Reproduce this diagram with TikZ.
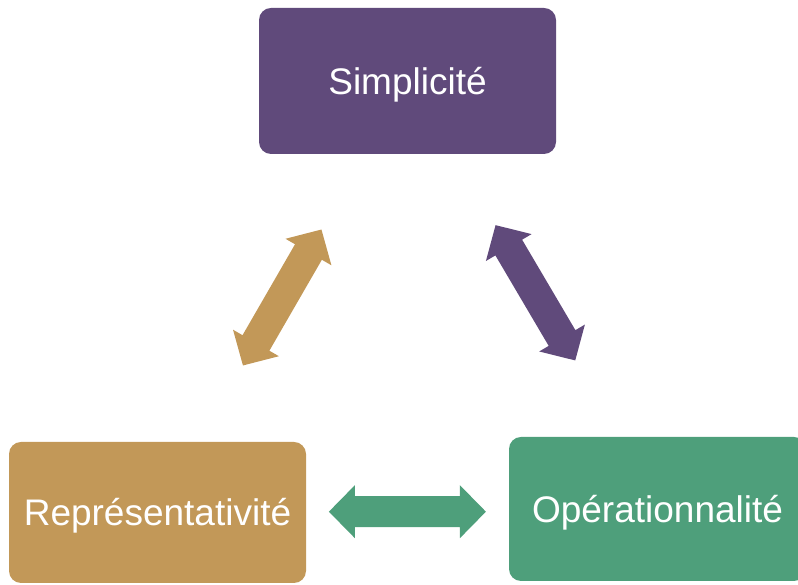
\documentclass[tikz,border=0pt]{standalone}
\usepackage{fontspec}
\setmainfont{Liberation Sans}
\definecolor{plum}{HTML}{604A7B}
\definecolor{ochre}{HTML}{C29858}
\definecolor{jade}{HTML}{4E9F7B}
\tikzset{
  box/.style={rounded corners=12pt, inner sep=0pt, text=white,
    font=\fontsize{37}{44}\selectfont, text height=26.5pt, text depth=0pt,
    minimum width=297pt},
  pics/dblarrow/.style={code={
    \path[pic actions] (-78.5,0) -- (-52.5,26.5) -- (-52.5,15.5) -- (52.5,15.5)
      -- (52.5,26.5) -- (78.5,0) -- (52.5,-26.5) -- (52.5,-15.5)
      -- (-52.5,-15.5) -- (-52.5,-26.5) -- cycle;
  }}
}
\begin{document}
\begin{tikzpicture}[x=1pt, y=1pt]
  \useasboundingbox (0,0) rectangle (798,585);
  \clip (0,0) rectangle (798,585);
  % the three boxes
  \node[box, fill=plum, minimum height=146pt] (simp) at (407.5,504) {Simplicité};
  \node[box, fill=ochre, minimum height=141pt] (repr) at (157.5,72.5) {Représentativité};
  \node[box, fill=jade, minimum height=144pt] (oper) at (657.5,76) {Opérationnalité};
  % two-headed block arrows between them
  \coordinate (ochremid) at (282.2,287.5);
  \coordinate (plummid) at (535.4,292.2);
  \coordinate (jademid) at (407.4,73.3);
  \pic[fill=ochre, rotate=60] at (ochremid) {dblarrow};
  \pic[fill=plum, rotate=-59.5] at (plummid) {dblarrow};
  \pic[fill=jade] at (jademid) {dblarrow};
\end{tikzpicture}
\end{document}
